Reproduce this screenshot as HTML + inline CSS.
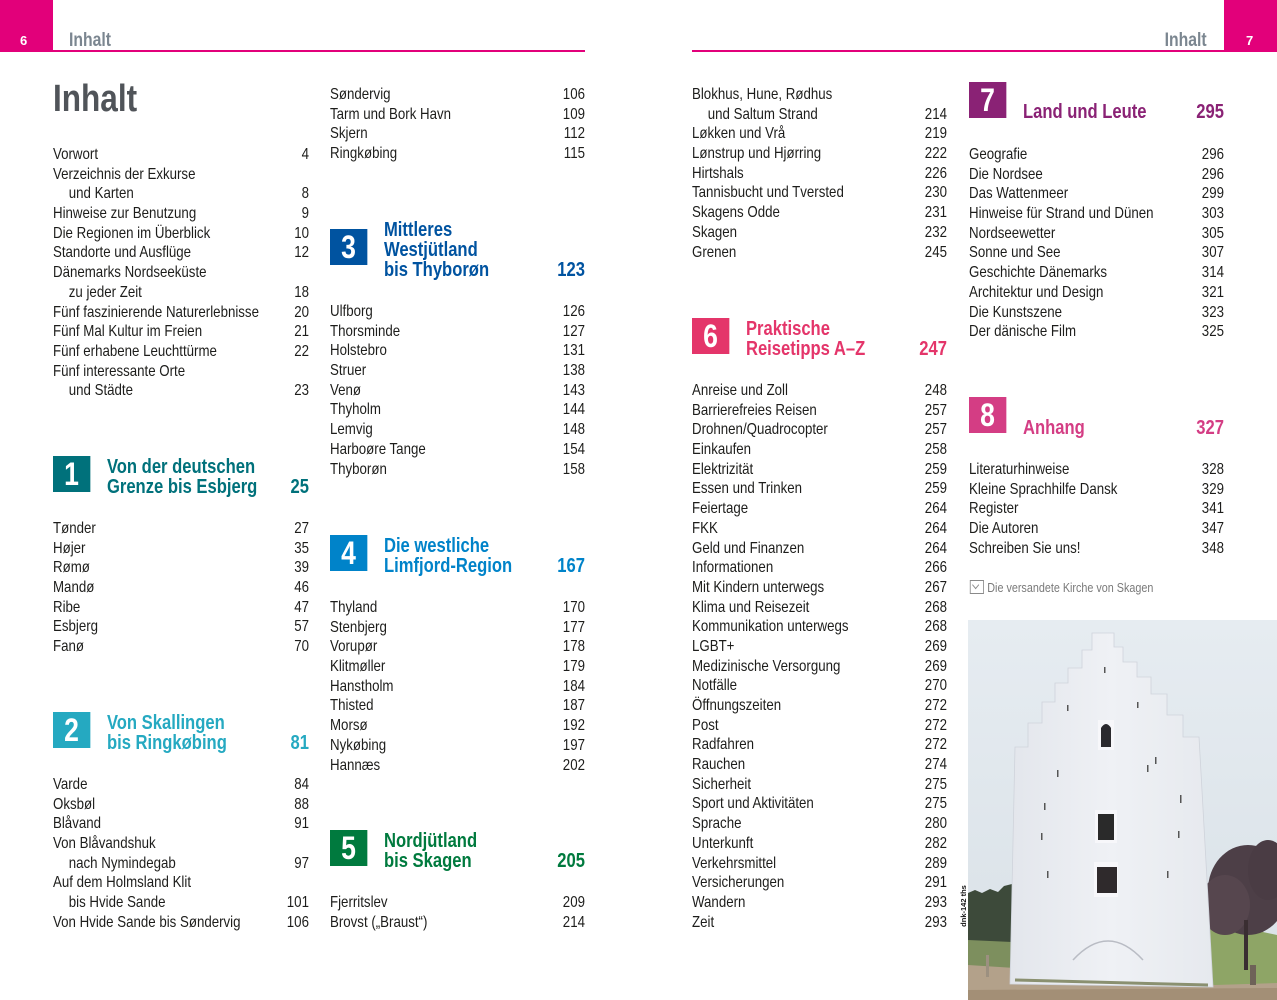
<!DOCTYPE html>
<html><head><meta charset="utf-8">
<style>
html,body{margin:0;padding:0;background:#fff;}
body{width:1277px;height:1000px;position:relative;overflow:hidden;font-family:"Liberation Sans",Arial,sans-serif;color:#1d1d1b;}
.abs{position:absolute;}
.col{position:absolute;top:0;height:1000px;transform:scaleX(.83);transform-origin:0 0;}
.g{position:absolute;left:0;right:0;}
.row{display:flex;justify-content:space-between;height:19.7px;line-height:19.7px;font-size:16px;white-space:nowrap;}
.in{padding-left:19px;}
.box{position:absolute;left:0;width:44.6px;height:36px;line-height:36px;text-align:center;color:#fff;font-weight:bold;font-size:32px;}
.tt{position:absolute;left:65px;font-weight:bold;font-size:20px;line-height:20px;white-space:nowrap;}
.tn{position:absolute;right:0;font-weight:bold;font-size:20px;line-height:20px;}
</style></head><body>

<!-- headers -->
<div class="abs" style="left:0;top:0;width:53px;height:52px;background:#e2007a;"></div>
<div class="abs" style="left:53px;top:50px;width:532px;height:2px;background:#e2007a;"></div>
<div class="abs" style="left:20px;top:34px;width:10px;font-size:13px;font-weight:bold;color:#fff;line-height:14px;">6</div>
<div class="abs" style="left:69px;top:31px;font-size:19px;line-height:19px;font-weight:bold;color:#7b8690;transform:scaleX(.83);transform-origin:0 0;">Inhalt</div>

<div class="abs" style="left:1224px;top:0;width:53px;height:52px;background:#e2007a;"></div>
<div class="abs" style="left:692px;top:50px;width:532px;height:2px;background:#e2007a;"></div>
<div class="abs" style="left:1246px;top:34px;width:10px;font-size:13px;font-weight:bold;color:#fff;line-height:14px;">7</div>
<div class="abs" style="right:70px;top:31px;font-size:19px;line-height:19px;font-weight:bold;color:#7b8690;transform:scaleX(.83);transform-origin:100% 0;">Inhalt</div>

<!-- Column 1 -->
<div class="col" style="left:53px;width:308.4px;">
  <div class="abs" style="left:0;top:80px;font-size:38px;line-height:38px;font-weight:bold;color:#505459;">Inhalt</div>
  <div class="g" style="top:145px;">
    <div class="row"><span>Vorwort</span><span>4</span></div>
    <div class="row"><span>Verzeichnis der Exkurse</span><span></span></div>
    <div class="row in"><span>und Karten</span><span>8</span></div>
    <div class="row"><span>Hinweise zur Benutzung</span><span>9</span></div>
    <div class="row"><span>Die Regionen im Überblick</span><span>10</span></div>
    <div class="row"><span>Standorte und Ausflüge</span><span>12</span></div>
    <div class="row"><span>Dänemarks Nordseeküste</span><span></span></div>
    <div class="row in"><span>zu jeder Zeit</span><span>18</span></div>
    <div class="row"><span>Fünf faszinierende Naturerlebnisse</span><span>20</span></div>
    <div class="row"><span>Fünf Mal Kultur im Freien</span><span>21</span></div>
    <div class="row"><span>Fünf erhabene Leuchttürme</span><span>22</span></div>
    <div class="row"><span>Fünf interessante Orte</span><span></span></div>
    <div class="row in"><span>und Städte</span><span>23</span></div>
  </div>
  <div class="box" style="top:456px;background:#00717b;">1</div>
  <div class="tt" style="top:457px;color:#00717b;">Von der deutschen<br>Grenze bis Esbjerg</div>
  <div class="tn" style="top:477px;color:#00717b;">25</div>
  <div class="g" style="top:519px;">
    <div class="row"><span>Tønder</span><span>27</span></div>
    <div class="row"><span>Højer</span><span>35</span></div>
    <div class="row"><span>Rømø</span><span>39</span></div>
    <div class="row"><span>Mandø</span><span>46</span></div>
    <div class="row"><span>Ribe</span><span>47</span></div>
    <div class="row"><span>Esbjerg</span><span>57</span></div>
    <div class="row"><span>Fanø</span><span>70</span></div>
  </div>
  <div class="box" style="top:712px;background:#25a9c1;">2</div>
  <div class="tt" style="top:713px;color:#25a9c1;">Von Skallingen<br>bis Ringkøbing</div>
  <div class="tn" style="top:733px;color:#25a9c1;">81</div>
  <div class="g" style="top:775px;">
    <div class="row"><span>Varde</span><span>84</span></div>
    <div class="row"><span>Oksbøl</span><span>88</span></div>
    <div class="row"><span>Blåvand</span><span>91</span></div>
    <div class="row"><span>Von Blåvandshuk</span><span></span></div>
    <div class="row in"><span>nach Nymindegab</span><span>97</span></div>
    <div class="row"><span>Auf dem Holmsland Klit</span><span></span></div>
    <div class="row in"><span>bis Hvide Sande</span><span>101</span></div>
    <div class="row"><span>Von Hvide Sande bis Søndervig</span><span>106</span></div>
  </div>
</div>

<!-- Column 2 -->
<div class="col" style="left:330px;width:307.2px;">
  <div class="g" style="top:85px;">
    <div class="row"><span>Søndervig</span><span>106</span></div>
    <div class="row"><span>Tarm und Bork Havn</span><span>109</span></div>
    <div class="row"><span>Skjern</span><span>112</span></div>
    <div class="row"><span>Ringkøbing</span><span>115</span></div>
  </div>
  <div class="box" style="top:229px;background:#0053a0;">3</div>
  <div class="tt" style="top:220px;color:#0053a0;">Mittleres<br>Westjütland<br>bis Thyborøn</div>
  <div class="tn" style="top:260px;color:#0053a0;">123</div>
  <div class="g" style="top:302px;">
    <div class="row"><span>Ulfborg</span><span>126</span></div>
    <div class="row"><span>Thorsminde</span><span>127</span></div>
    <div class="row"><span>Holstebro</span><span>131</span></div>
    <div class="row"><span>Struer</span><span>138</span></div>
    <div class="row"><span>Venø</span><span>143</span></div>
    <div class="row"><span>Thyholm</span><span>144</span></div>
    <div class="row"><span>Lemvig</span><span>148</span></div>
    <div class="row"><span>Harboøre Tange</span><span>154</span></div>
    <div class="row"><span>Thyborøn</span><span>158</span></div>
  </div>
  <div class="box" style="top:535px;background:#0083c9;">4</div>
  <div class="tt" style="top:536px;color:#0083c9;">Die westliche<br>Limfjord-Region</div>
  <div class="tn" style="top:556px;color:#0083c9;">167</div>
  <div class="g" style="top:598px;">
    <div class="row"><span>Thyland</span><span>170</span></div>
    <div class="row"><span>Stenbjerg</span><span>177</span></div>
    <div class="row"><span>Vorupør</span><span>178</span></div>
    <div class="row"><span>Klitmøller</span><span>179</span></div>
    <div class="row"><span>Hanstholm</span><span>184</span></div>
    <div class="row"><span>Thisted</span><span>187</span></div>
    <div class="row"><span>Morsø</span><span>192</span></div>
    <div class="row"><span>Nykøbing</span><span>197</span></div>
    <div class="row"><span>Hannæs</span><span>202</span></div>
  </div>
  <div class="box" style="top:830px;background:#007a3e;">5</div>
  <div class="tt" style="top:831px;color:#007a3e;">Nordjütland<br>bis Skagen</div>
  <div class="tn" style="top:851px;color:#007a3e;">205</div>
  <div class="g" style="top:893px;">
    <div class="row"><span>Fjerritslev</span><span>209</span></div>
    <div class="row"><span>Brovst („Braust“)</span><span>214</span></div>
  </div>
</div>

<!-- Column 3 -->
<div class="col" style="left:692px;width:307.2px;">
  <div class="g" style="top:85px;">
    <div class="row"><span>Blokhus, Hune, Rødhus</span><span></span></div>
    <div class="row in"><span>und Saltum Strand</span><span>214</span></div>
    <div class="row"><span>Løkken und Vrå</span><span>219</span></div>
    <div class="row"><span>Lønstrup und Hjørring</span><span>222</span></div>
    <div class="row"><span>Hirtshals</span><span>226</span></div>
    <div class="row"><span>Tannisbucht und Tversted</span><span>230</span></div>
    <div class="row"><span>Skagens Odde</span><span>231</span></div>
    <div class="row"><span>Skagen</span><span>232</span></div>
    <div class="row"><span>Grenen</span><span>245</span></div>
  </div>
  <div class="box" style="top:318px;background:#e4356a;">6</div>
  <div class="tt" style="top:319px;color:#e4356a;">Praktische<br>Reisetipps A–Z</div>
  <div class="tn" style="top:339px;color:#e4356a;">247</div>
  <div class="g" style="top:381px;">
    <div class="row"><span>Anreise und Zoll</span><span>248</span></div>
    <div class="row"><span>Barrierefreies Reisen</span><span>257</span></div>
    <div class="row"><span>Drohnen/Quadrocopter</span><span>257</span></div>
    <div class="row"><span>Einkaufen</span><span>258</span></div>
    <div class="row"><span>Elektrizität</span><span>259</span></div>
    <div class="row"><span>Essen und Trinken</span><span>259</span></div>
    <div class="row"><span>Feiertage</span><span>264</span></div>
    <div class="row"><span>FKK</span><span>264</span></div>
    <div class="row"><span>Geld und Finanzen</span><span>264</span></div>
    <div class="row"><span>Informationen</span><span>266</span></div>
    <div class="row"><span>Mit Kindern unterwegs</span><span>267</span></div>
    <div class="row"><span>Klima und Reisezeit</span><span>268</span></div>
    <div class="row"><span>Kommunikation unterwegs</span><span>268</span></div>
    <div class="row"><span>LGBT+</span><span>269</span></div>
    <div class="row"><span>Medizinische Versorgung</span><span>269</span></div>
    <div class="row"><span>Notfälle</span><span>270</span></div>
    <div class="row"><span>Öffnungszeiten</span><span>272</span></div>
    <div class="row"><span>Post</span><span>272</span></div>
    <div class="row"><span>Radfahren</span><span>272</span></div>
    <div class="row"><span>Rauchen</span><span>274</span></div>
    <div class="row"><span>Sicherheit</span><span>275</span></div>
    <div class="row"><span>Sport und Aktivitäten</span><span>275</span></div>
    <div class="row"><span>Sprache</span><span>280</span></div>
    <div class="row"><span>Unterkunft</span><span>282</span></div>
    <div class="row"><span>Verkehrsmittel</span><span>289</span></div>
    <div class="row"><span>Versicherungen</span><span>291</span></div>
    <div class="row"><span>Wandern</span><span>293</span></div>
    <div class="row"><span>Zeit</span><span>293</span></div>
  </div>
</div>

<!-- Column 4 -->
<div class="col" style="left:969px;width:307.2px;">
  <div class="box" style="top:82px;background:#8a2275;">7</div>
  <div class="tt" style="top:102px;color:#8a2275;">Land und Leute</div>
  <div class="tn" style="top:102px;color:#8a2275;">295</div>
  <div class="g" style="top:145px;">
    <div class="row"><span>Geografie</span><span>296</span></div>
    <div class="row"><span>Die Nordsee</span><span>296</span></div>
    <div class="row"><span>Das Wattenmeer</span><span>299</span></div>
    <div class="row"><span>Hinweise für Strand und Dünen</span><span>303</span></div>
    <div class="row"><span>Nordseewetter</span><span>305</span></div>
    <div class="row"><span>Sonne und See</span><span>307</span></div>
    <div class="row"><span>Geschichte Dänemarks</span><span>314</span></div>
    <div class="row"><span>Architektur und Design</span><span>321</span></div>
    <div class="row"><span>Die Kunstszene</span><span>323</span></div>
    <div class="row"><span>Der dänische Film</span><span>325</span></div>
  </div>
  <div class="box" style="top:397px;background:#d43d84;">8</div>
  <div class="tt" style="top:418px;color:#d43d84;">Anhang</div>
  <div class="tn" style="top:418px;color:#d43d84;">327</div>
  <div class="g" style="top:460px;">
    <div class="row"><span>Literaturhinweise</span><span>328</span></div>
    <div class="row"><span>Kleine Sprachhilfe Dansk</span><span>329</span></div>
    <div class="row"><span>Register</span><span>341</span></div>
    <div class="row"><span>Die Autoren</span><span>347</span></div>
    <div class="row"><span>Schreiben Sie uns!</span><span>348</span></div>
  </div>
  <div class="abs" style="left:1px;top:580px;width:15px;height:12px;border:1px solid #8a8a8a;"></div>
  <div class="abs" style="left:5px;top:582px;width:5px;height:5px;border-right:1px solid #8a8a8a;border-bottom:1px solid #8a8a8a;transform:rotate(45deg);"></div>
  <div class="abs" style="left:22px;top:578px;font-size:13px;line-height:20px;color:#7a7a7a;white-space:nowrap;">Die versandete Kirche von Skagen</div>
</div>

<!-- credit -->
<div class="abs" style="left:943px;top:901px;width:42px;height:10px;font-size:7.5px;line-height:10px;font-weight:bold;color:#111;transform:rotate(-90deg);text-align:center;white-space:nowrap;">dnk-142 ths</div>

<!-- photo -->
<svg class="abs" style="left:968px;top:620px;" width="309" height="380" viewBox="968 620 309 380" xmlns="http://www.w3.org/2000/svg">
  <defs>
    <linearGradient id="sky" x1="0" y1="0" x2="0" y2="1">
      <stop offset="0" stop-color="#e6ecf1"/>
      <stop offset="1" stop-color="#d9e1e7"/>
    </linearGradient>
    <linearGradient id="wall" x1="0" y1="0" x2="1" y2="0">
      <stop offset="0" stop-color="#e3e6ec"/>
      <stop offset="0.5" stop-color="#eff1f5"/>
      <stop offset="1" stop-color="#e6e9ee"/>
    </linearGradient>
  </defs>
  <rect x="968" y="620" width="309" height="380" fill="url(#sky)"/>
  <!-- left trees -->
  <path d="M968,893 L975,890 L982,893 L990,889 L998,892 L1004,886 L1012,884 L1012,950 L968,950 Z" fill="#3d4a3a"/>
  <path d="M968,940 L1012,942 L1012,970 L968,968 Z" fill="#7d8f5e"/>
  <!-- right tree & grass -->
  <path d="M1196,930 L1230,925 L1277,935 L1277,995 L1200,990 Z" fill="#8ea566"/>
  <ellipse cx="1248" cy="890" rx="40" ry="45" fill="#4d3f47"/>
  <ellipse cx="1225" cy="905" rx="25" ry="30" fill="#56464e"/>
  <ellipse cx="1268" cy="870" rx="20" ry="30" fill="#4a3c44"/>
  <rect x="1244" y="920" width="4" height="50" fill="#3a2e32"/>
  <!-- ground -->
  <path d="M968,965 L1015,968 L1215,985 L1277,983 L1277,1000 L968,1000 Z" fill="#b3a18a"/>
  <path d="M968,990 L1277,988 L1277,1000 L968,1000 Z" fill="#a38f76"/>
  <!-- tower -->
  <polygon fill="url(#wall)" stroke="#cfd3db" stroke-width="0.8" points="1010,984 1015,747 1028,747 1028,723 1042,723 1042,702 1055,702 1055,683 1068,683 1068,668 1082,668 1082,650 1092,650 1092,633 1114,633 1114,647 1123,647 1123,662 1137,662 1137,677 1151,677 1151,694 1167,694 1167,715 1183,715 1183,737 1199,737 1213,987"/>
  <!-- windows -->
  <rect x="1098" y="720" width="16" height="30" fill="#f7f7fa"/>
  <path d="M1101,747 L1101,728 Q1106,720 1111,728 L1111,747 Z" fill="#2b2a2e"/>
  <rect x="1095" y="810" width="22" height="33" fill="#f7f7fa"/>
  <rect x="1098" y="814" width="16" height="26" fill="#2a2a2a"/>
  <rect x="1094" y="862" width="24" height="35" fill="#f7f7fa"/>
  <rect x="1097" y="867" width="20" height="26" fill="#2f2a2c"/>
  <!-- slits -->
  <rect x="1104" y="667" width="1.5" height="6" fill="#555"/>
  <rect x="1067" y="705" width="1.5" height="6" fill="#555"/>
  <rect x="1137" y="702" width="1.5" height="6" fill="#555"/>
  <rect x="1057" y="770" width="1.5" height="7" fill="#555"/>
  <rect x="1155" y="757" width="1.5" height="7" fill="#555"/>
  <rect x="1147" y="765" width="1.5" height="7" fill="#555"/>
  <rect x="1044" y="803" width="1.5" height="7" fill="#555"/>
  <rect x="1180" y="795" width="1.5" height="8" fill="#555"/>
  <rect x="1041" y="833" width="1.5" height="7" fill="#555"/>
  <rect x="1178" y="831" width="1.5" height="7" fill="#555"/>
  <rect x="1047" y="871" width="1.5" height="7" fill="#555"/>
  <rect x="1167" y="871" width="1.5" height="7" fill="#555"/>
  <!-- bottom arch -->
  <path d="M1073,960 Q1108,922 1143,960" fill="none" stroke="#b9bcc4" stroke-width="1.5"/>
  <path d="M1015,980 L1208,985" stroke="#8a9070" stroke-width="3"/>
  <rect x="986" y="955" width="3" height="22" fill="#9c9080"/>
  <rect x="1250" y="965" width="6" height="20" fill="#6e6258"/>
</svg>

</body></html>
